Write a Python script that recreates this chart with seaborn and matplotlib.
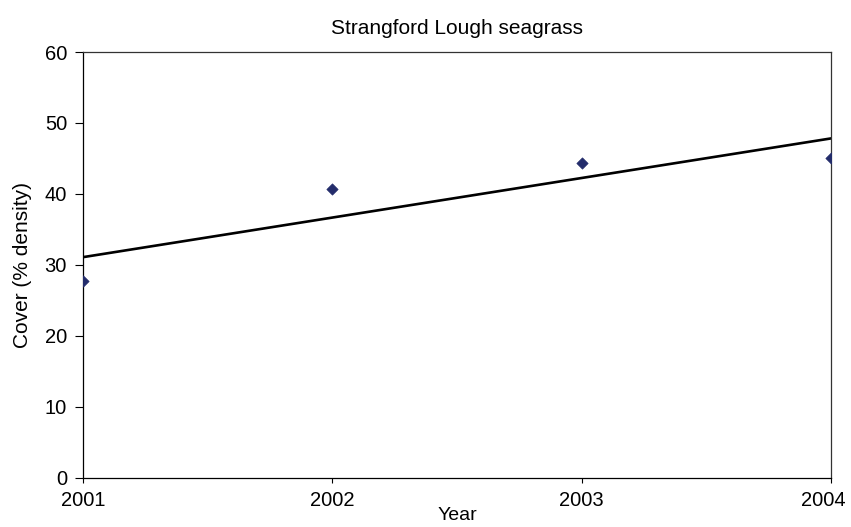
import matplotlib
matplotlib.use("Agg")
import matplotlib.pyplot as plt
import matplotlib.transforms as mtransforms
import seaborn as sns
import pandas as pd

# Seagrass cover survey, Strangford Lough
years = [2001, 2002, 2003, 2004]
cover = [27.7, 40.7, 44.3, 45.1]
year_ticks = [2001, 2002, 2003, 2004]
cover_ticks = [0, 10, 20, 30, 40, 50, 60]

df = pd.DataFrame({"Year": years, "Cover": cover})

sns.set_style("white")
plt.rcParams["font.family"] = ["Liberation Sans", "DejaVu Sans"]
plt.rcParams["text.color"] = "black"
plt.rcParams["axes.labelcolor"] = "black"
plt.rcParams["xtick.color"] = "black"
plt.rcParams["ytick.color"] = "black"

fig = plt.figure(figsize=(8.51, 5.27), dpi=100)
ax = fig.add_axes([0.0975, 0.0937, 0.879, 0.8076])

sns.regplot(
    data=df, x="Year", y="Cover", ax=ax, ci=None, marker="D",
    scatter_kws={"s": 34, "color": "#232c6b", "alpha": 1,
                 "edgecolors": "#232c6b", "linewidths": 0.4, "zorder": 3},
    line_kws={"color": "black", "linewidth": 1.9, "zorder": 2},
)

ax.set_xlim(2001, 2004)
ax.set_ylim(0, 60)
ax.set_xticks(year_ticks)
ax.set_xticklabels([str(y) for y in year_ticks])
ax.set_yticks(cover_ticks)

ax.tick_params(axis="y", direction="out", length=6, width=0.8,
               labelsize=14.5, pad=5.5, left=True)
ax.tick_params(axis="x", direction="out", length=3.5, width=0.8,
               labelsize=14.5, pad=6, bottom=True)

# keep the last year label inside the figure edge
last = ax.get_xticklabels()[-1]
last.set_transform(last.get_transform() +
                   mtransforms.ScaledTranslation(-8 / 100, 0, fig.dpi_scale_trans))

for side in ["left", "bottom"]:
    ax.spines[side].set_color("black")
    ax.spines[side].set_linewidth(0.9)
for side in ["top", "right"]:
    ax.spines[side].set_color("#333333")
    ax.spines[side].set_linewidth(0.9)
    ax.spines[side].set_visible(True)

ax.set_xlabel("Year", fontsize=14, labelpad=-2)
ax.set_ylabel("Cover (% density)", fontsize=15, labelpad=9)
ax.set_title("Strangford Lough seagrass", fontsize=15, pad=13)

fig.savefig("out.png", dpi=100)
